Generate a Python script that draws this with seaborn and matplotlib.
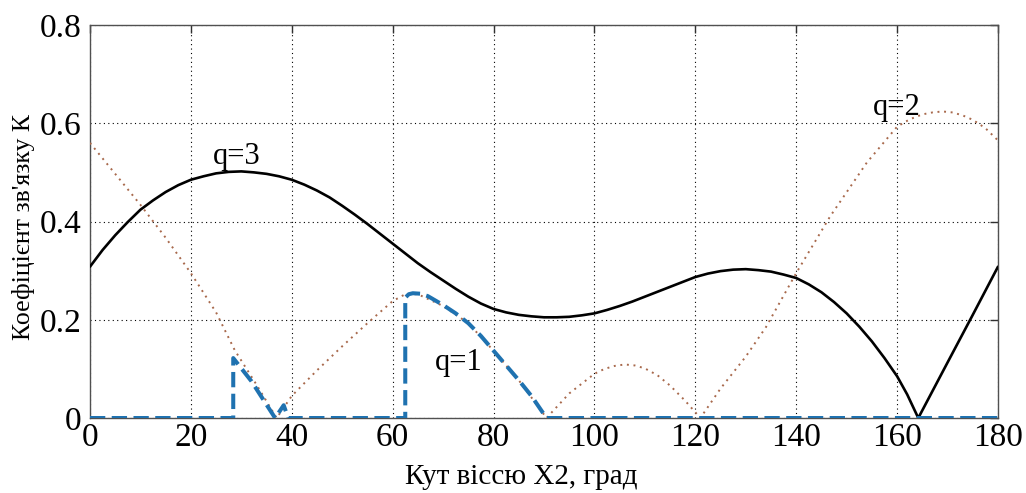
import matplotlib
matplotlib.use("Agg")
import matplotlib.pyplot as plt
import seaborn as sns
import pandas as pd

# ---- data ----
q3_x = [0, 2.5, 5, 7.5, 10, 12.5, 15, 17.5, 20, 22.5, 25, 27.5, 30, 32.5, 35, 37.5,
        40, 42.5, 45, 47.5, 50, 52.5, 55, 57.5, 60, 62.5, 65, 67.5, 70, 72.5, 75,
        77.5, 80, 82.5, 85, 87.5, 90, 92.5, 95, 97.5, 100, 102.5, 105, 107.5, 110,
        112.5, 115, 117.5, 120, 122.5, 125, 127.5, 130, 132.5, 135, 137.5, 140,
        142.5, 145, 147.5, 150, 152.5, 155, 157.5, 160, 162, 164.2, 170, 175, 180]
q3_y = [0.308, 0.342, 0.372, 0.399, 0.424, 0.443, 0.460, 0.474, 0.485, 0.492, 0.498,
        0.501, 0.502, 0.500, 0.497, 0.492, 0.485, 0.475, 0.463, 0.449, 0.432, 0.414,
        0.395, 0.375, 0.355, 0.335, 0.315, 0.297, 0.280, 0.263, 0.247, 0.233, 0.222,
        0.215, 0.210, 0.207, 0.205, 0.205, 0.206, 0.209, 0.213, 0.220, 0.228, 0.237,
        0.247, 0.257, 0.267, 0.277, 0.287, 0.294, 0.299, 0.302, 0.303, 0.301, 0.298,
        0.292, 0.285, 0.272, 0.256, 0.236, 0.213, 0.186, 0.156, 0.122, 0.085, 0.048,
        0.0, 0.113, 0.210, 0.308]

q2_x = [0, 5, 10, 15, 20, 25, 28.7, 33, 37, 40, 45, 50, 55, 60, 62.5, 65, 70, 75, 80,
        85, 90.5, 95, 100, 102, 104, 106, 108, 110, 112.5, 115, 118, 121, 125, 130,
        134, 140, 146.7, 154, 160, 162.5, 165, 167, 169, 171, 173, 175, 177.5, 180]
q2_y = [0.56, 0.497, 0.434, 0.367, 0.295, 0.215, 0.138, 0.068, 0.0, 0.045, 0.097,
        0.146, 0.193, 0.238, 0.252, 0.252, 0.228, 0.193, 0.137, 0.077, 0.0, 0.05,
        0.09, 0.100, 0.106, 0.109, 0.107, 0.101, 0.087, 0.066, 0.035, 0.0, 0.06,
        0.125, 0.185, 0.295, 0.41, 0.52, 0.593, 0.608, 0.618, 0.622, 0.624, 0.622,
        0.616, 0.607, 0.59, 0.565]

q1_x = [0, 28.4, 28.4, 32, 36.7, 38.4, 39.3, 62.5, 62.5, 63.2, 64, 65.5, 67, 70,
        72.5, 75, 77.5, 80, 82.5, 85, 87.5, 90.5, 180]
q1_y = [0.0, 0.0, 0.122, 0.075, 0.0, 0.026, 0.0, 0.0, 0.245, 0.252, 0.254, 0.253,
        0.248, 0.230, 0.213, 0.193, 0.167, 0.137, 0.107, 0.077, 0.045, 0.0, 0.0]

x_ticks = [0, 20, 40, 60, 80, 100, 120, 140, 160, 180]
y_ticks = [0, 0.2, 0.4, 0.6, 0.8]
y_tick_labels = ["0", "0.2", "0.4", "0.6", "0.8"]

labels = ["q=3", "q=2", "q=1"]
label_pos_x = [24.3, 155.2, 68.4]
label_pos_y = [0.518, 0.617, 0.098]

x_label = "Кут віссю X2, град"
y_label = "Коефіцієнт зв'язку К"

# ---- style ----
sns.set_theme(style="white")
plt.rcParams["font.family"] = ["Liberation Serif", "DejaVu Serif"]

fig = plt.figure(figsize=(10.26, 4.93), dpi=100)
ax = fig.add_axes([0.0877, 0.1521, 0.8850, 0.7972])

df3 = pd.DataFrame({"x": q3_x, "y": q3_y})
df2 = pd.DataFrame({"x": q2_x, "y": q2_y})
df1 = pd.DataFrame({"x": q1_x, "y": q1_y})

sns.lineplot(data=df2, x="x", y="y", ax=ax, estimator=None, sort=False,
             color="#a8694c", linewidth=1.4, linestyle=(0, (1, 2.4)), zorder=3)
sns.lineplot(data=df3, x="x", y="y", ax=ax, estimator=None, sort=False,
             color="black", linewidth=1.9, zorder=4)
sns.lineplot(data=df1, x="x", y="y", ax=ax, estimator=None, sort=False,
             color="#1f72b0", linewidth=2.9, linestyle=(0, (3.8, 1.6)), zorder=5)

ax.set_xlim(0, 180)
ax.set_ylim(0, 0.8)
ax.set_xticks(x_ticks)
ax.set_yticks(y_ticks)
ax.set_yticklabels(y_tick_labels)

ax.grid(True, color="black", linestyle=(0, (1, 3)), linewidth=0.8)
ax.set_axisbelow(True)

for s in ax.spines.values():
    s.set_color("#505050")
    s.set_linewidth(1.0)

ax.tick_params(axis="both", which="major", direction="in", length=6, width=1,
               color="#303030", top=True, right=True, labelsize=24,
               labelcolor="black")
ax.tick_params(axis="x", pad=3)
ax.tick_params(axis="y", pad=6)

ax.set_xlabel(x_label, fontsize=21, color="black")
ax.set_ylabel(y_label, fontsize=18.5, color="black")
ax.xaxis.set_label_coords(0.4747, -0.118)
ax.yaxis.set_label_coords(-0.061, 0.486)

for t, lx, ly in zip(labels, label_pos_x, label_pos_y):
    ax.text(lx, ly, t, fontsize=22, ha="left", va="baseline", color="black",
            zorder=6)

fig.savefig("out.png", dpi=100, facecolor="white")
